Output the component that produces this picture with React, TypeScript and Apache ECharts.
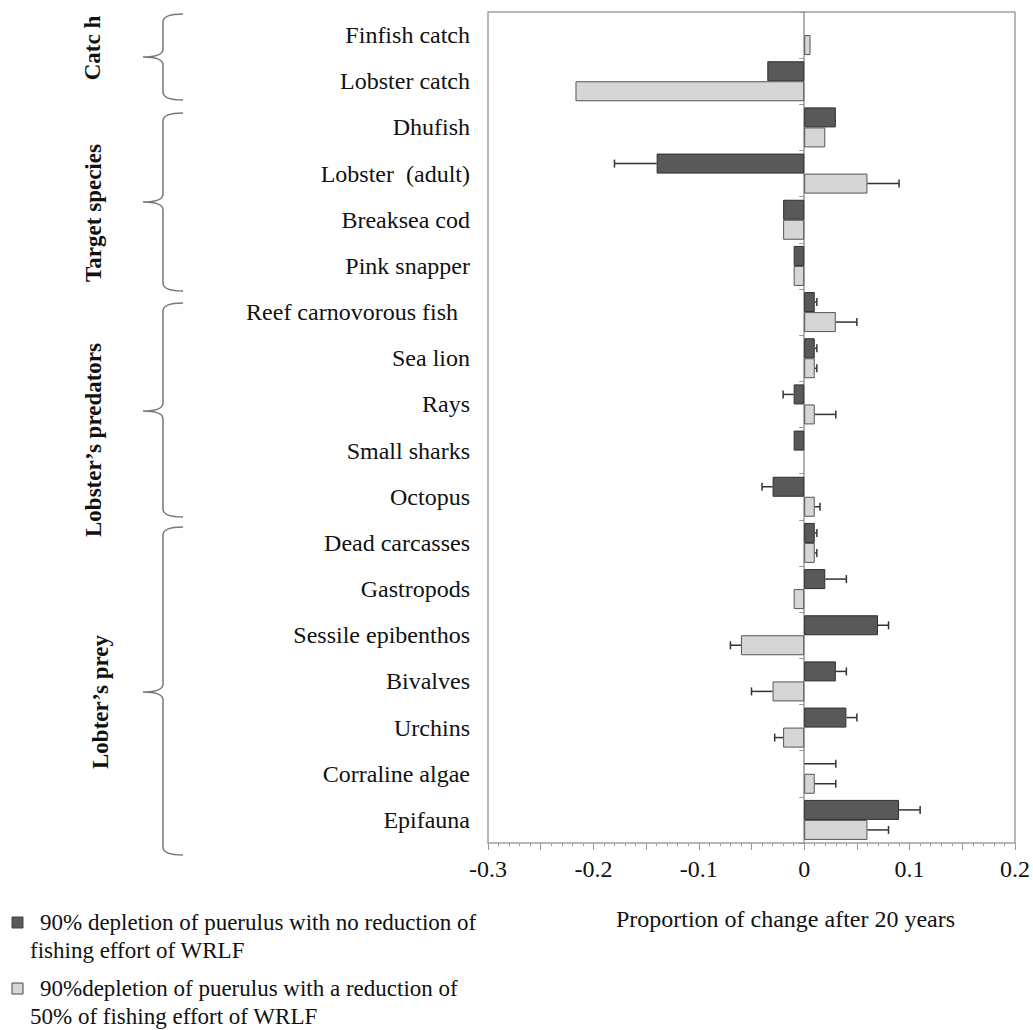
import React, { useEffect, useRef } from "react";
import * as echarts from "echarts";

const categories = [
  "Finfish catch",
  "Lobster catch",
  "Dhufish",
  "Lobster \u00a0(adult)",
  "Breaksea cod",
  "Pink snapper",
  "Reef carnovorous fish\u00a0\u00a0",
  "Sea lion",
  "Rays",
  "Small sharks",
  "Octopus",
  "Dead carcasses",
  "Gastropods",
  "Sessile epibenthos",
  "Bivalves",
  "Urchins",
  "Corraline algae",
  "Epifauna",
];

const seriesNames = [
  "90% depletion of puerulus with no reduction of fishing effort of WRLF",
  "90%depletion of puerulus with a reduction of 50% of fishing effort of WRLF",
];
const legendLines = [
  ["90% depletion of puerulus with no reduction of", "fishing effort of WRLF"],
  ["90%depletion of puerulus with a reduction of", "50% of fishing effort of WRLF"],
];

// 90% depletion, no reduction of fishing effort (dark)
const noReduction: (number | null)[] = [
  null, -0.035, 0.03, -0.14, -0.02, -0.01, 0.01, 0.01, -0.01, -0.01, -0.03, 0.01, 0.02, 0.07, 0.03, 0.04, null, 0.09,
];
// error bar tips (dark)
const noReductionErr: (number | null)[] = [
  null, null, null, -0.18, null, null, 0.012, 0.012, -0.02, null, -0.04, 0.012, 0.04, 0.08, 0.04, 0.05, 0.03, 0.11,
];
// 90% depletion, 50% reduction of fishing effort (light)
const withReduction: (number | null)[] = [
  0.006, -0.217, 0.02, 0.06, -0.02, -0.01, 0.03, 0.01, 0.01, null, 0.01, 0.01, -0.01, -0.06, -0.03, -0.02, 0.01, 0.06,
];
// error bar tips (light)
const withReductionErr: (number | null)[] = [
  null, null, null, 0.09, null, null, 0.05, 0.012, 0.03, null, 0.015, 0.012, null, -0.07, -0.05, -0.028, 0.03, 0.08,
];

const xAxisTitle = "Proportion of change after 20 years";
const groupLabels = ["Catc h", "Target species", "Lobster\u2019s predators", "Lobter\u2019s prey"];

// annotation layout (pixels)
const braceLayout = [
  { top: 14, tip: 57, bottom: 100, labelY: 48, labelX: 92 },
  { top: 113, tip: 202, bottom: 291, labelY: 213, labelX: 93 },
  { top: 303, tip: 411, bottom: 517, labelY: 440, labelX: 93 },
  { top: 527, tip: 692, bottom: 855, labelY: 702, labelX: 100 },
];

const FONT = "Liberation Serif";
const DARK = "#595959";
const LIGHT = "#d6d6d6";

braceLayout.forEach((b, i) => {
  const xe = 183, xv = 163, xt = 143, r = 8;
  const d =
    `M${xe} ${b.top} Q${xv} ${b.top} ${xv} ${b.top + r} L${xv} ${b.tip - r} ` +
    `Q${xv} ${b.tip} ${xt} ${b.tip} Q${xv} ${b.tip} ${xv} ${b.tip + r} ` +
    `L${xv} ${b.bottom - r} Q${xv} ${b.bottom} ${xe} ${b.bottom}`;
  echarts.graphic.registerShape("brace" + i, echarts.graphic.extendPath(d, {}));
});

const BAR_W = 20;

function errSeries(vals: (number | null)[], errs: (number | null)[], offset: number, name: string) {
  const data: number[][] = [];
  errs.forEach((e, i) => {
    if (e != null) data.push([i, vals[i] ?? 0, e]);
  });
  return {
    type: "custom",
    name: name + " error",
    silent: true,
    z: 5,
    encode: { x: [1, 2], y: 0 },
    renderItem: (_p: any, api: any) => {
      const idx = api.value(0);
      const p0 = api.coord([api.value(1), idx]);
      const p1 = api.coord([api.value(2), idx]);
      const y = p0[1] + offset;
      const st = { stroke: "#333", lineWidth: 1.5 };
      return {
        type: "group",
        children: [
          { type: "line", shape: { x1: p0[0], y1: y, x2: p1[0], y2: y }, style: st },
          { type: "line", shape: { x1: p1[0], y1: y - 4, x2: p1[0], y2: y + 4 }, style: st },
        ],
      };
    },
    data,
  };
}

export default function App() {
  const ref = useRef<HTMLDivElement>(null);
  useEffect(() => {
    if (!ref.current) return;
    const chart = echarts.init(ref.current, undefined, { renderer: "svg" });

    const graphics: any[] = [];
    braceLayout.forEach((b, i) => {
      graphics.push({
        type: "brace" + i,
        x: 0,
        y: 0,
        silent: true,
        style: { stroke: "#777", fill: null, lineWidth: 1.5 },
      });
      graphics.push({
        type: "text",
        x: b.labelX,
        y: b.labelY,
        rotation: Math.PI / 2,
        style: {
          text: groupLabels[i],
          font: `bold 23px "${FONT}"`,
          fill: "#111",
          align: "center",
          verticalAlign: "middle",
        },
      });
    });
    const legendY = [922, 988];
    [DARK, LIGHT].forEach((c, i) => {
      graphics.push({
        type: "rect",
        shape: { x: 12, y: legendY[i] - 5, width: 11, height: 11 },
        style: { fill: c, stroke: "#444", lineWidth: 1 },
      });
      graphics.push({
        type: "text",
        x: 40,
        y: legendY[i],
        style: { text: legendLines[i][0], font: `23px "${FONT}"`, fill: "#111", verticalAlign: "middle" },
      });
      graphics.push({
        type: "text",
        x: 30,
        y: legendY[i] + 28,
        style: { text: legendLines[i][1], font: `23px "${FONT}"`, fill: "#111", verticalAlign: "middle" },
      });
    });

    chart.setOption({
      animation: false,
      backgroundColor: "#fff",
      textStyle: { fontFamily: FONT },
      grid: {
        left: 488,
        top: 12,
        right: 18,
        bottom: 187,
        containLabel: false,
        show: true,
        borderColor: "#a0a0a0",
        borderWidth: 1.5,
      },
      xAxis: {
        type: "value",
        min: -0.3,
        max: 0.2,
        interval: 0.05,
        name: xAxisTitle,
        nameLocation: "middle",
        nameGap: 64,
        nameTextStyle: { fontSize: 24, color: "#111", fontFamily: FONT, padding: [0, 0, 0, 68] },
        splitLine: { show: false },
        axisLine: { lineStyle: { color: "#999", width: 1.5 } },
        axisTick: { show: true, length: 7, lineStyle: { color: "#999" } },
        minorTick: { show: true, splitNumber: 5, length: 3, lineStyle: { color: "#999" } },
        axisLabel: {
          fontSize: 24,
          color: "#111",
          margin: 14,
          formatter: (v: number) => {
            const r = Math.round(v * 100);
            if (r % 10 !== 0) return "";
            return String(Math.round(v * 10) / 10);
          },
        },
      },
      yAxis: [
        {
          type: "category",
          data: categories,
          inverse: true,
          axisLine: { show: false, onZero: false },
          axisTick: { show: false },
          axisLabel: { fontSize: 24, color: "#111", margin: 18 },
        },
        {
          type: "category",
          data: categories,
          inverse: true,
          position: "left",
          axisLine: { show: true, onZero: true, lineStyle: { color: "#999", width: 1.5 } },
          axisTick: { show: true, length: 5, lineStyle: { color: "#999" } },
          axisLabel: { show: false },
        },
      ],
      series: [
        {
          type: "bar",
          name: seriesNames[0],
          data: noReduction.map((v) => (v == null ? "-" : v)),
          barWidth: BAR_W,
          barGap: "0%",
          itemStyle: { color: DARK, borderColor: "#2e2e2e", borderWidth: 1 },
        },
        {
          type: "bar",
          name: seriesNames[1],
          data: withReduction.map((v) => (v == null ? "-" : v)),
          barWidth: BAR_W,
          barGap: "0%",
          itemStyle: { color: LIGHT, borderColor: "#555", borderWidth: 1 },
        },
        errSeries(noReduction, noReductionErr, -BAR_W / 2, seriesNames[0]),
        errSeries(withReduction, withReductionErr, BAR_W / 2, seriesNames[1]),
      ],
      graphic: graphics,
    });
    return () => chart.dispose();
  }, []);
  return (
    <div
      ref={ref}
      style={{ position: "fixed", left: 0, top: 0, width: 1033, height: 1030, background: "#fff" }}
    />
  );
}
